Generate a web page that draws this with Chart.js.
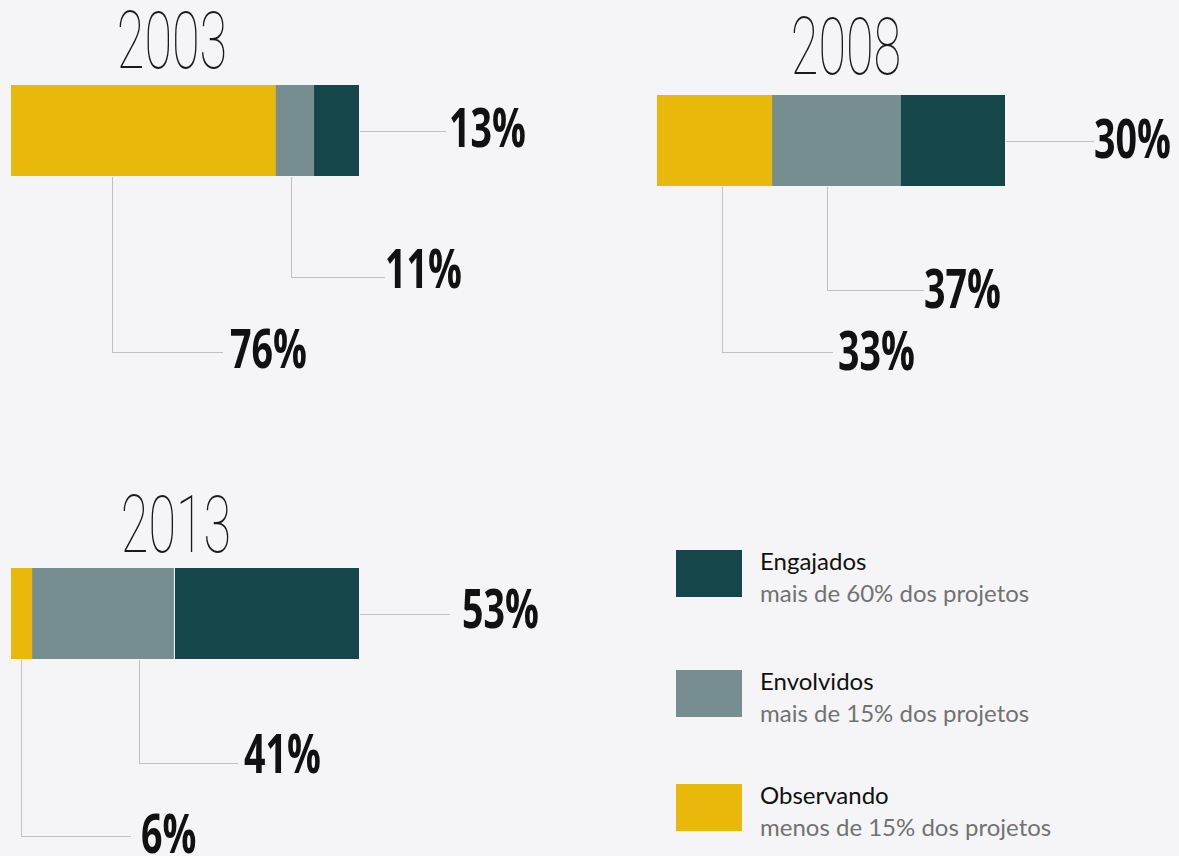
<!DOCTYPE html>
<html>
<head>
<meta charset="utf-8">
<script src="https://cdn.jsdelivr.net/npm/chart.js@4"></script>
<style>
  html, body { margin: 0; padding: 0; background: #f5f5f7; }
  body { width: 1179px; height: 856px; position: relative; overflow: hidden; }
  canvas { position: absolute; }
  .legend { position: absolute; left: 676px; font-family: Lato, "Open Sans", sans-serif; }
  .legend .sw { position: absolute; left: 0; top: 0; width: 66px; height: 47px; }
  .legend .name { position: absolute; left: 84px; top: -1px; font-size: 24px; line-height: 24px; color: #111; white-space: nowrap; }
  .legend .note { position: absolute; left: 84px; top: 31px; font-size: 24px; line-height: 24px; color: #727272; white-space: nowrap; }
</style>
</head>
<body>
<canvas id="c2003" width="560" height="400" style="left:0;top:0"></canvas>
<canvas id="c2008" width="579" height="400" style="left:600px;top:0"></canvas>
<canvas id="c2013" width="600" height="386" style="left:0;top:470px"></canvas>
<div id="legend"></div>

<script>
// -------------------------
// DATA
// -------------------------
const years = ["2003", "2008", "2013"];
const categories = ["Observando", "Envolvidos", "Engajados"];
const observando = [76, 33, 6];
const envolvidos = [11, 37, 41];
const engajados = [13, 30, 53];
const notes = ["menos de 15% dos projetos", "mais de 15% dos projetos", "mais de 60% dos projetos"];

const colors = ["#e8b90b", "#768e90", "#15464a"];

// -------------------------
// LAYOUT (per panel, in canvas px)
// -------------------------
const panels = [
  {
    id: "c2003", pad: { left: 11, top: 85, right: 201, bottom: 224 }, sep: 0,
    title: { dx: 161, dy: -17 },
    labels: [
      { frac: 0.38, drop: 176, lineEnd: 211, textX: 219, dy: 16 },
      { frac: 0.41, drop: 101, lineEnd: 373, textX: 374, dy: 11 },
      { right: true, lineEnd: 86, textX: 90, dy: 16 }
    ]
  },
  {
    id: "c2008", pad: { left: 57, top: 95, right: 174, bottom: 214 }, sep: 0,
    title: { dx: 189, dy: -21 },
    labels: [
      { frac: 0.57, drop: 166, lineEnd: 175, textX: 181, dy: 18 },
      { frac: 0.43, drop: 104, lineEnd: 266, textX: 267, dy: 18 },
      { right: true, lineEnd: 88, textX: 89, dy: 17 }
    ]
  },
  {
    id: "c2013", pad: { left: 11, top: 98, right: 241, bottom: 197 }, sep: 1,
    title: { dx: 165, dy: -16 },
    labels: [
      { frac: 0.47, drop: 177, lineEnd: 119, textX: 130, dy: 17 },
      { frac: 0.75, drop: 104, lineEnd: 226, textX: 233, dy: 10 },
      { right: true, lineEnd: 91, textX: 103, dy: 14 }
    ]
  }
];

// -------------------------
// HELPERS
// -------------------------
function squeezeText(ctx, text, x, y, font, sx, align, color) {
  ctx.save();
  ctx.font = font;
  ctx.fillStyle = color;
  ctx.textAlign = align;
  ctx.textBaseline = "alphabetic";
  ctx.translate(x, y);
  ctx.scale(sx, 1);
  ctx.fillText(text, 0, 0);
  ctx.restore();
}

function dotted(ctx, pts) {
  ctx.save();
  ctx.strokeStyle = "#8c8c8c";
  ctx.lineWidth = 1;
  ctx.setLineDash([1, 1]);
  ctx.beginPath();
  ctx.moveTo(Math.round(pts[0][0]) + 0.5, Math.round(pts[0][1]) + 0.5);
  for (let i = 1; i < pts.length; i++) {
    ctx.lineTo(Math.round(pts[i][0]) + 0.5, Math.round(pts[i][1]) + 0.5);
  }
  ctx.stroke();
  ctx.restore();
}

// draws the year and the leader lines + percent labels
const annotate = {
  id: "annotate",
  afterDraw(chart, args, opts) {
    const ctx = chart.ctx;
    const area = chart.chartArea;
    const p = opts.panel;

    squeezeText(ctx, opts.year, area.left + p.title.dx, area.top + p.title.dy,
      "100 80px Roboto", 0.63, "center", "#1a1a1a");

    p.labels.forEach((lab, i) => {
      const bar = chart.getDatasetMeta(i).data[0];
      const value = chart.data.datasets[i].data[0];
      const txt = value + "%";
      let ly;
      if (lab.right) {
        ly = bar.y;
        dotted(ctx, [[area.right + 1, ly], [area.right + lab.lineEnd, ly]]);
        squeezeText(ctx, txt, area.right + lab.textX, ly + lab.dy,
          "bold 53px 'Open Sans'", 0.71, "left", "#111");
      } else {
        const x = bar.base + (bar.x - bar.base) * lab.frac;
        ly = area.bottom + lab.drop;
        dotted(ctx, [[x, area.bottom + 1], [x, ly], [area.left + lab.lineEnd, ly]]);
        squeezeText(ctx, txt, area.left + lab.textX, ly + lab.dy,
          "bold 53px 'Open Sans'", 0.71, "left", "#111");
      }
    });
  }
};

// -------------------------
// CHARTS
// -------------------------
const series = [observando, envolvidos, engajados];

panels.forEach((p, k) => {
  const ctx = document.getElementById(p.id).getContext("2d");
  new Chart(ctx, {
    type: "bar",
    data: {
      labels: [years[k]],
      datasets: categories.map((name, i) => ({
        label: name,
        data: [series[i][k]],
        backgroundColor: colors[i],
        borderColor: "#ffffff",
        borderWidth: i === 1 ? { right: p.sep } : 0,
        borderSkipped: false,
        barPercentage: 1,
        categoryPercentage: 1
      }))
    },
    options: {
      indexAxis: "y",
      responsive: false,
      animation: false,
      devicePixelRatio: 1,
      layout: { padding: p.pad },
      scales: {
        x: { stacked: true, min: 0, max: 100, display: false },
        y: { stacked: true, display: false }
      },
      plugins: {
        legend: { display: false },
        tooltip: { enabled: false },
        annotate: { panel: p, year: years[k] }
      }
    },
    plugins: [annotate]
  });
});

// -------------------------
// LEGEND (html)
// -------------------------
const legendTops = [550, 670, 784];
const legendOrder = [2, 1, 0];
const legendEl = document.getElementById("legend");
legendOrder.forEach((i, n) => {
  const item = document.createElement("div");
  item.className = "legend";
  item.style.top = legendTops[n] + "px";
  item.innerHTML =
    '<div class="sw" style="background:' + colors[i] + '"></div>' +
    '<div class="name">' + categories[i] + '</div>' +
    '<div class="note">' + notes[i] + '</div>';
  legendEl.appendChild(item);
});
</script>
</body>
</html>
